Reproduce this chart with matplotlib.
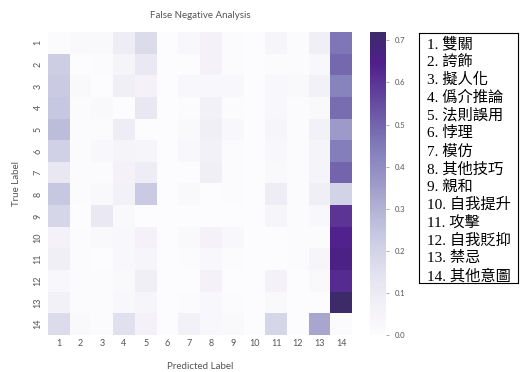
import matplotlib
matplotlib.use('Agg')
import matplotlib.pyplot as plt
from matplotlib.colors import LinearSegmentedColormap
import numpy as np
import seaborn as sns

# --- data (fraction of false negatives, rows = true label, cols = predicted) ---
labels = [str(i) for i in range(1, 15)]
fn_rates = [
    [0.01, 0.02, 0.02, 0.09, 0.17, 0.00, 0.03, 0.06, 0.01, 0.00, 0.04, 0.01, 0.08, 0.46],
    [0.22, 0.00, 0.01, 0.05, 0.11, 0.00, 0.00, 0.06, 0.01, 0.00, 0.01, 0.01, 0.03, 0.49],
    [0.23, 0.02, 0.00, 0.08, 0.06, 0.00, 0.03, 0.03, 0.03, 0.00, 0.03, 0.02, 0.07, 0.43],
    [0.24, 0.01, 0.02, 0.00, 0.12, 0.00, 0.01, 0.07, 0.01, 0.00, 0.03, 0.01, 0.02, 0.48],
    [0.27, 0.01, 0.01, 0.09, 0.00, 0.00, 0.02, 0.08, 0.03, 0.00, 0.04, 0.01, 0.07, 0.36],
    [0.21, 0.01, 0.03, 0.05, 0.04, 0.00, 0.03, 0.07, 0.01, 0.00, 0.03, 0.01, 0.05, 0.44],
    [0.12, 0.01, 0.01, 0.06, 0.09, 0.00, 0.00, 0.08, 0.01, 0.00, 0.02, 0.01, 0.05, 0.50],
    [0.24, 0.01, 0.02, 0.07, 0.23, 0.00, 0.02, 0.00, 0.01, 0.00, 0.09, 0.01, 0.08, 0.20],
    [0.19, 0.00, 0.11, 0.02, 0.00, 0.00, 0.00, 0.00, 0.00, 0.00, 0.04, 0.01, 0.03, 0.60],
    [0.06, 0.01, 0.02, 0.03, 0.06, 0.00, 0.02, 0.06, 0.03, 0.00, 0.00, 0.01, 0.01, 0.64],
    [0.08, 0.01, 0.00, 0.03, 0.04, 0.00, 0.01, 0.03, 0.01, 0.00, 0.00, 0.01, 0.04, 0.66],
    [0.03, 0.01, 0.01, 0.02, 0.08, 0.00, 0.00, 0.06, 0.00, 0.00, 0.06, 0.00, 0.02, 0.62],
    [0.07, 0.01, 0.01, 0.03, 0.04, 0.00, 0.01, 0.03, 0.01, 0.00, 0.02, 0.00, 0.00, 0.72],
    [0.17, 0.02, 0.01, 0.15, 0.06, 0.00, 0.07, 0.03, 0.02, 0.00, 0.19, 0.00, 0.33, 0.01],
]
class_names = ['雙關', '誇飾', '擬人化', '僞介推論', '法則誤用', '悖理', '模仿',
               '其他技巧', '親和', '自我提升', '攻擊', '自我貶抑', '禁忌', '其他意圖']

# Purples, but with a slightly muted dark end like the original
purples = plt.get_cmap('Purples')
cmap = LinearSegmentedColormap.from_list(
    'fn_purples', [purples(v) for v in np.linspace(0, 0.9, 10)] + ['#3c2b68'])

grey = '#555555'
fig = plt.figure(figsize=(5.2, 3.72), dpi=100)
ax = fig.add_axes([0.0923, 0.0995, 0.585, 0.8145])
cax = fig.add_axes([0.7115, 0.0995, 0.031, 0.8145])

sns.heatmap(np.array(fn_rates), ax=ax, cbar_ax=cax, cmap=cmap, vmin=0,
            xticklabels=labels, yticklabels=labels)

ax.set_title('False Negative Analysis', fontsize=7, color=grey, family='Lato', pad=10)
ax.set_xlabel('Predicted Label', fontsize=7, color=grey, family='Lato', va='center')
ax.set_ylabel('True Label', fontsize=7, color=grey, family='Lato', labelpad=9)
ax.xaxis.set_label_coords(0.5, -0.105)
ax.tick_params(length=0, labelsize=6.5, labelcolor=grey)
ax.tick_params(axis='x', pad=3)
ax.tick_params(axis='y', pad=4)
for t in ax.get_yticklabels():
    t.set_rotation(90)
    t.set_va('center')
for t in ax.get_xticklabels() + ax.get_yticklabels():
    t.set_family('Lato')

cbar = ax.collections[0].colorbar
cbar.outline.set_visible(False)
cbar.set_ticks(np.arange(0, 0.71, 0.1))
cax.tick_params(labelsize=5.5, labelcolor=grey, color='#888888', length=2.5, width=0.5)
for t in cax.get_yticklabels():
    t.set_family('Lato')

# --- legend box with class names ---
box = fig.add_axes([0.806, 0.239, 0.19, 0.672])
box.set_xticks([])
box.set_yticks([])
for s in box.spines.values():
    s.set_linewidth(0.8)
    s.set_color('black')
n = len(class_names)
for i, name in enumerate(class_names):
    box.text(0.08, 1 - (i + 0.62) / n, f'{i + 1}. {name}', fontsize=11,
             family=['Liberation Serif', 'Noto Sans CJK TC'], va='center', ha='left')

plt.savefig('out.png', dpi=100)
plt.close()
